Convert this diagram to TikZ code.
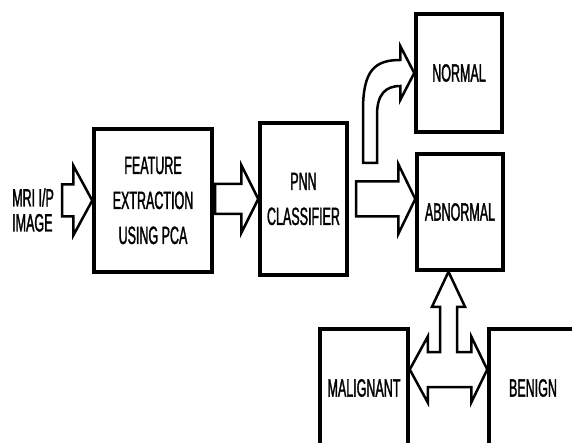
\documentclass[tikz,border=0pt]{standalone}
\usepackage{fontspec}
\setmainfont{Liberation Sans}[FakeStretch=0.5,FakeBold=1.3]
\usetikzlibrary{calc}

% fleche pleine horizontale : #1 depart, #2 pointe, #3 demi tige, #4 demi tete, #5 long. tete
\newcommand\blocfleche[5]{%
\draw[fleche] ($(#1)+(0,#3)$) -- ($(#2)+(-#5,#3)$) -- ($(#2)+(-#5,#4)$) -- (#2)
  -- ($(#2)+(-#5,-#4)$) -- ($(#2)+(-#5,-#3)$) -- ($(#1)+(0,-#3)$) -- cycle;}

\begin{document}
\begin{tikzpicture}[x=1pt,y=-1pt,
  boite/.style={draw,line width=3.5pt,inner sep=0pt,align=center,
    font=\fontsize{25}{35}\selectfont},
  fleche/.style={draw,line width=2.5pt,fill=white}]

\useasboundingbox (0,0) rectangle (572,443);
\clip (0,0) rectangle (572,443);

%les boites
\node [anchor=west,align=left,inner sep=0pt,font=\fontsize{25}{25}\selectfont] (mri) at (12,210) {MRI I/P\\IMAGE};
\node [boite,minimum width=118,minimum height=143] (feat) at (153,200.5) {FEATURE\\EXTRACTION\\USING PCA};
\node [boite,minimum width=87,minimum height=152] (pnn) at (303.5,199) {PNN\\CLASSIFIER};
\node [boite,minimum width=86,minimum height=118] (normal) at (459,73) {NORMAL};
\node [boite,minimum width=86,minimum height=116] (abnormal) at (460,212) {ABNORMAL};
\node [boite,minimum width=88,minimum height=118] (malig) at (364,388) {MALIGNANT};
\node [boite,minimum width=88,minimum height=118] (benign) at (533,388) {BENIGN};

%les fleches
\coordinate (d1) at (62,200.5);
\blocfleche{d1}{feat.west}{16}{35}{19}
\coordinate (d2) at (215,199);
\blocfleche{d2}{pnn.west}{15}{34}{17}
\coordinate (d3) at (356,199);
\coordinate (t3) at (abnormal.west |- pnn.west);
\blocfleche{d3}{t3}{17.5}{35}{17}

% fleche courbe vers NORMAL
\draw[fleche] (363,163) -- (363,110) .. controls (363,70) and (375,60) .. ($(normal.west)+(-14,-13)$)
  -- ($(normal.west)+(-14,-27)$) -- (normal.west) -- ($(normal.west)+(-14,27)$)
  -- ($(normal.west)+(-14,13)$) .. controls (385,86) and (377,95) .. (377,115) -- (377,163) -- cycle;

% fleche triple
\coordinate (jn) at (448.5,369.5);
\coordinate (u) at (abnormal.south -| jn);
\coordinate (l) at (malig.east |- jn);
\coordinate (r) at (benign.west |- jn);
\draw[fleche] (u) -- ($(u)+(16.5,35)$) -- ($(u)+(8.5,35)$) -- ($(jn)+(8.5,-17.5)$)
  -- ($(r)+(-16,-17.5)$) -- ($(r)+(-16,-33)$) -- (r) -- ($(r)+(-16,33)$) -- ($(r)+(-16,17.5)$)
  -- ($(l)+(18,17.5)$) -- ($(l)+(18,33)$) -- (l) -- ($(l)+(18,-33)$) -- ($(l)+(18,-17.5)$)
  -- ($(jn)+(-8.5,-17.5)$) -- ($(u)+(-8.5,35)$) -- ($(u)+(-16.5,35)$) -- cycle;

\end{tikzpicture}
\end{document}
